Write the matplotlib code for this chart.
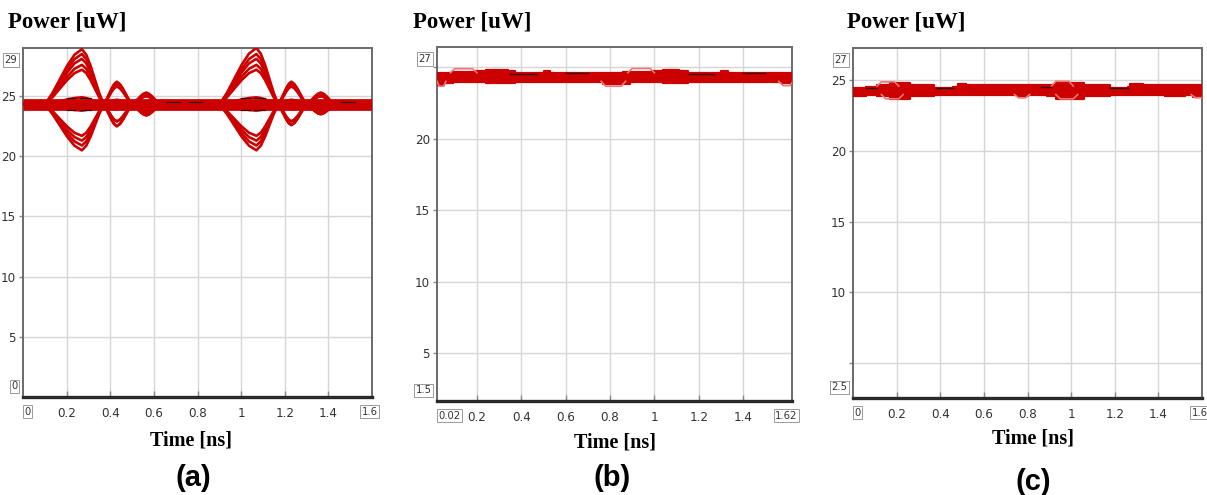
import numpy as np
import matplotlib
matplotlib.use("Agg")
import matplotlib.pyplot as plt

# ---------------- data ----------------
# (a) eye diagram: baseline level and the lobes of each 0.8 ns pattern
base_a = 24.3
band_levels_a = [23.95, 24.1, 24.25, 24.4, 24.55, 24.7]
# lobe timing: (start, peak, end) in ns
lobe_times_a = [(0.10, 0.27, 0.37), (0.37, 0.43, 0.50), (0.50, 0.565, 0.63),
                (0.90, 1.07, 1.17), (1.17, 1.23, 1.30), (1.30, 1.365, 1.43)]
# lobe outline: fraction of the excursion reached along the rising / falling side
rise_pos = [0.0, 0.2, 0.4, 0.6, 0.8, 1.0]
rise_amp = [0.0, 0.20, 0.45, 0.70, 0.90, 1.0]
fall_pos = [0.0, 0.2, 0.4, 0.6, 0.8, 1.0]
fall_amp = [1.0, 0.90, 0.70, 0.45, 0.20, 0.0]
# peak power of each lobe, one row per trace
lobe_peaks_a = [
    [28.9, 26.2, 25.3, 29.0, 26.2, 25.3],
    [28.5, 22.5, 25.1, 28.5, 22.6, 25.1],
    [28.1, 25.9, 23.4, 28.1, 25.9, 23.5],
    [27.6, 22.9, 23.6, 27.6, 22.9, 23.6],
    [27.2, 26.0, 25.0, 27.2, 26.0, 25.0],
    [20.5, 26.1, 23.4, 20.5, 26.1, 23.5],
    [20.9, 22.5, 25.2, 20.9, 22.6, 25.2],
    [21.3, 25.8, 25.0, 21.3, 25.8, 25.0],
    [21.7, 22.9, 23.7, 21.7, 22.9, 23.7],
    [24.9, 24.7, 24.6, 24.9, 24.7, 24.6],
    [23.8, 23.9, 24.0, 23.8, 23.9, 24.0],
]
# short dark dashes inside the eye openings
dash_a_t = [[0.20, 0.24], [0.26, 0.31], [0.20, 0.24], [0.26, 0.31],
            [1.00, 1.04], [1.06, 1.11], [1.00, 1.04], [1.06, 1.11],
            [0.66, 0.72], [0.76, 0.82], [1.46, 1.52]]
dash_a_v = [[24.85, 24.85], [24.85, 24.85], [23.85, 23.85], [23.85, 23.85],
            [24.85, 24.85], [24.85, 24.85], [23.85, 23.85], [23.85, 23.85],
            [24.5, 24.5], [24.5, 24.5], [24.5, 24.5]]

# (b) band edges (step-wise)
t_b = [0.02, 0.05, 0.09, 0.13, 0.19, 0.24, 0.34, 0.37, 0.47, 0.50, 0.53, 0.62, 0.70,
       0.77, 0.86, 0.89, 0.99, 1.04, 1.11, 1.15, 1.26, 1.30, 1.33, 1.42, 1.50, 1.57, 1.62]
up_b = [24.55, 24.60, 24.65, 24.68, 24.70, 24.82, 24.75, 24.55, 24.55, 24.72, 24.60, 24.58,
        24.58, 24.60, 24.62, 24.66, 24.72, 24.82, 24.75, 24.55, 24.55, 24.72, 24.60, 24.58,
        24.58, 24.60, 24.60]
lo_b = [23.72, 23.90, 23.92, 23.92, 23.92, 23.85, 23.88, 23.98, 23.98, 23.92, 23.98, 23.98,
        23.92, 23.82, 23.80, 23.92, 23.92, 23.85, 23.88, 23.98, 23.98, 23.92, 23.98, 23.98,
        23.95, 23.88, 23.80]
pink_b_t = [[0.08, 0.10, 0.18, 0.20], [0.88, 0.90, 0.98, 1.00],
            [0.76, 0.78, 0.85, 0.87], [0.02, 0.03, 0.05, 0.06], [1.56, 1.58, 1.61, 1.62]]
pink_b_v = [[24.6, 24.88, 24.88, 24.6], [24.6, 24.90, 24.90, 24.6],
            [24.0, 23.66, 23.66, 24.0], [24.0, 23.66, 23.66, 24.0], [24.0, 23.70, 23.70, 23.9]]
dark_b_t = [[0.35, 0.47], [1.15, 1.27], [0.60, 0.70], [1.40, 1.50]]
dark_b_v = [[24.52, 24.52], [24.52, 24.52], [24.55, 24.55], [24.55, 24.55]]

# (c) band edges (step-wise)
t_c = [0.00, 0.06, 0.11, 0.17, 0.26, 0.37, 0.46, 0.48, 0.52, 0.63, 0.75, 0.80, 0.89,
       0.93, 1.06, 1.18, 1.26, 1.27, 1.33, 1.43, 1.52, 1.56, 1.60]
up_c = [24.50, 24.55, 24.65, 24.80, 24.68, 24.50, 24.55, 24.78, 24.65, 24.65, 24.65, 24.65,
        24.68, 24.80, 24.68, 24.50, 24.55, 24.78, 24.65, 24.70, 24.65, 24.65, 24.65]
lo_c = [23.90, 23.95, 23.90, 23.72, 23.90, 23.95, 23.95, 23.95, 23.95, 23.95, 23.90, 23.95,
        23.90, 23.72, 23.90, 23.95, 23.95, 23.95, 23.95, 23.92, 23.95, 23.85, 23.85]
pink_c_t = [[0.11, 0.13, 0.19, 0.21], [0.91, 0.93, 0.99, 1.01],
            [0.13, 0.15, 0.21, 0.23], [0.93, 0.95, 1.01, 1.03],
            [0.74, 0.76, 0.79, 0.81], [1.55, 1.57, 1.60, 1.60]]
pink_c_v = [[24.6, 24.90, 24.90, 24.6], [24.6, 24.94, 24.94, 24.6],
            [24.0, 23.70, 23.70, 24.0], [24.0, 23.70, 23.70, 24.0],
            [24.0, 23.76, 23.76, 24.0], [24.0, 23.78, 23.78, 23.78]]
dark_c_t = [[0.06, 0.11], [0.38, 0.46], [0.86, 0.91], [1.18, 1.26]]
dark_c_v = [[24.50, 24.50], [24.47, 24.47], [24.55, 24.55], [24.47, 24.47]]

# axis settings per panel
xlims = [(0.0, 1.6), (0.02, 1.62), (0.0, 1.6)]
ylims = [(0.0, 29.0), (1.65, 26.4), (2.5, 27.3)]
xticks = [0.2, 0.4, 0.6, 0.8, 1.0, 1.2, 1.4]
xtick_labels = ["0.2", "0.4", "0.6", "0.8", "1", "1.2", "1.4"]
ygrid = [5, 10, 15, 20, 25]
ytick_labels = [["5", "10", "15", "20", "25"],
                ["5", "10", "15", "20", ""],
                ["", "10", "15", "20", "25"]]
corner_labels = [("29", "0", "0", "1.6"), ("27", "1.5", "0.02", "1.62"), ("27", "2.5", "0", "1.6")]
panel_tags = ["(a)", "(b)", "(c)"]

# ---------------- drawing ----------------
RED = "#cc0000"
PINK = "#ee7777"
DARK = "#3a0a0a"
SERIF = ["Liberation Serif", "DejaVu Serif"]
SANS = ["Liberation Sans", "DejaVu Sans"]
TICKFONT = dict(family="DejaVu Sans", stretch="condensed", size=9.5)

fig = plt.figure(figsize=(12.07, 4.95), dpi=100)
rects = [(23 / 1207, 1 - 397 / 495, 349 / 1207, 349 / 495),
         (437 / 1207, 1 - 401 / 495, 355 / 1207, 354 / 495),
         (853 / 1207, 1 - 398 / 495, 349 / 1207, 350 / 495)]
axes = [fig.add_axes(r) for r in rects]

for i, ax in enumerate(axes):
    ax.set_xlim(*xlims[i])
    ax.set_ylim(*ylims[i])
    ax.set_xticks(xticks)
    ax.set_xticklabels(xtick_labels, fontproperties=TICKFONT, color="#333333")
    ax.set_yticks(ygrid)
    ax.set_yticklabels(ytick_labels[i], fontproperties=TICKFONT, color="#333333")
    ax.tick_params(axis="x", direction="in", length=4, width=1, color="#888888", pad=7)
    ax.tick_params(axis="y", direction="out", length=3, width=1, color="#888888", pad=2)
    ax.grid(True, color="#d6d6d6", lw=1.0)
    ax.set_axisbelow(True)
    for s in ("top", "right", "left"):
        ax.spines[s].set_color("#6a6a6a")
        ax.spines[s].set_linewidth(1.4)
    ax.spines["bottom"].set_color("#2a2a2a")
    ax.spines["bottom"].set_linewidth(2.4)

    top_lab, bot_lab, left_lab, right_lab = corner_labels[i]
    box = dict(boxstyle="square,pad=0.15", fc="white", ec="#9a9a9a", lw=0.7)
    small = dict(family="DejaVu Sans", stretch="condensed", size=8)
    ax.annotate(top_lab, (0, 1), xycoords="axes fraction", xytext=(-4, -5),
                textcoords="offset points", ha="right", va="top",
                fontproperties=small, color="#333333", bbox=box)
    ax.annotate(bot_lab, (0, 0), xycoords="axes fraction", xytext=(-4, 4),
                textcoords="offset points", ha="right", va="bottom",
                fontproperties=small, color="#333333", bbox=box)
    ax.annotate(left_lab, (0, 0), xycoords="axes fraction", xytext=(1, -7),
                textcoords="offset points", ha="left", va="top",
                fontproperties=small, color="#333333", bbox=box)
    ax.annotate(right_lab, (1, 0), xycoords="axes fraction", xytext=(4, -7),
                textcoords="offset points", ha="right", va="top",
                fontproperties=small, color="#333333", bbox=box)

# (a) eye diagram traces
ax = axes[0]
for lvl in band_levels_a:
    ax.plot(list(xlims[0]), [lvl, lvl], color=RED, lw=2.0, solid_capstyle="butt", zorder=3)
for peaks in lobe_peaks_a:
    xs, ys = [xlims[0][0]], [base_a]
    for (t0, tp, t1), p in zip(lobe_times_a, peaks):
        for f, a in zip(rise_pos, rise_amp):
            xs.append(t0 + f * (tp - t0))
            ys.append(base_a + a * (p - base_a))
        for f, a in zip(fall_pos[1:], fall_amp[1:]):
            xs.append(tp + f * (t1 - tp))
            ys.append(base_a + a * (p - base_a))
    xs.append(xlims[0][1])
    ys.append(base_a)
    ax.plot(xs, ys, color=RED, lw=1.9, zorder=4)
for xs, ys in zip(dash_a_t, dash_a_v):
    ax.plot(xs, ys, color=DARK, lw=0.9, zorder=5)

# (b) and (c) bands
for ax, t, up, lo, pt, pv, dt, dv in [
        (axes[1], t_b, up_b, lo_b, pink_b_t, pink_b_v, dark_b_t, dark_b_v),
        (axes[2], t_c, up_c, lo_c, pink_c_t, pink_c_v, dark_c_t, dark_c_v)]:
    ax.fill_between(t, lo, up, step="post", color=RED, lw=0, zorder=3)
    ax.step(t, up, where="post", color=RED, lw=1.6, zorder=3)
    ax.step(t, lo, where="post", color=RED, lw=1.6, zorder=3)
    for xs, ys in zip(pt, pv):
        ax.plot(xs, ys, color=PINK, lw=1.2, zorder=4)
    for xs, ys in zip(dt, dv):
        ax.plot(xs, ys, color=DARK, lw=1.0, zorder=5)

# figure texts
for x in (8 / 1207, 413 / 1207, 847 / 1207):
    fig.text(x, 1 - 22 / 495, "Power [uW]", ha="left", va="center", fontsize=16.5,
             fontweight="bold", fontfamily=SERIF)
for x, y in ((191 / 1207, 1 - 440 / 495), (615 / 1207, 1 - 443 / 495), (1033 / 1207, 1 - 438 / 495)):
    fig.text(x, y, "Time [ns]", ha="center", va="center", fontsize=14.5,
             fontweight="bold", fontfamily=SERIF)
for (x, y), tag in zip(((193 / 1207, 1 - 478 / 495), (612 / 1207, 1 - 478 / 495),
                        (1033 / 1207, 1 - 482 / 495)), panel_tags):
    fig.text(x, y, tag, ha="center", va="center", fontsize=21, fontweight="bold",
             fontfamily=SANS)

fig.savefig("out.png", dpi=100)
